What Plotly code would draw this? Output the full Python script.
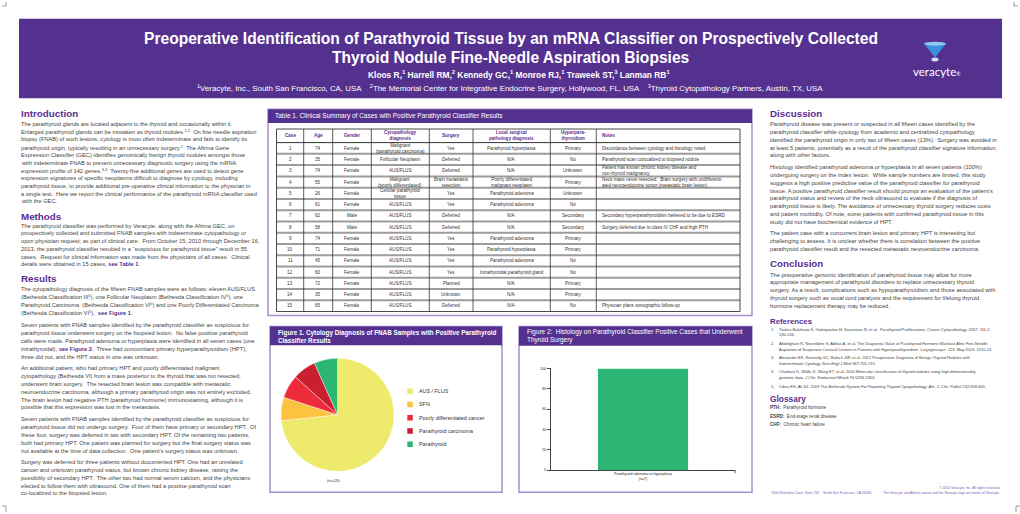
import plotly.graph_objects as go

W, H = 1020, 514
def X(p): return p / W
def Y(p): return 1 - p / H

PURPLE = '#55318f'
HEAD = '#5b2d90'
LIGHT = '#a78fcf'
TXT = '#3f3f3f'
FONT = 'Liberation Sans, Arial, sans-serif'
BODY = 5.7

# ---------------- data ----------------
pie_labels = ['AUS / FLUS', 'SFN', 'Poorly differentiated cancer', 'Parathyroid carcinoma', 'Parathyroid']
pie_counts = [11, 1, 1, 1, 1]
pie_colors = ['#eeea6b', '#fcc340', '#ee2b3b', '#c91f2f', '#2cb674']

bar_categories = ['Parathyroid adenoma or hyperplasia<br>(n=7)']
bar_values = [100]
bar_color = '#2cb674'
bar_tickvals = [0, 20, 40, 60, 80, 100]

tbl_headers = ['Case', 'Age', 'Gender', 'Cytopathology<br>diagnosis', 'Surgery',
               'Local surgical<br>pathology diagnosis', 'Hyperpara-<br>thyroidism', 'Notes']
tbl_case = [1, 2, 3, 4, 5, 6, 7, 8, 9, 10, 11, 12, 13, 14, 15]
tbl_age = [74, 35, 74, 55, 26, 61, 62, 58, 74, 71, 45, 60, 72, 35, 65]
tbl_gender = ['Female', 'Female', 'Female', 'Female', 'Female', 'Female', 'Male', 'Male',
              'Female', 'Female', 'Female', 'Female', 'Female', 'Female', 'Female']
tbl_cyto = ['Malignant<br>(parathyroid carcinoma)', 'Follicular Neoplasm', 'AUS/FLUS',
            'Malignant<br>(poorly differentiated)', 'Cellular parathyroid<br>tissue', 'AUS/FLUS',
            'AUS/FLUS', 'AUS/FLUS', 'AUS/FLUS', 'AUS/FLUS', 'AUS/FLUS', 'AUS/FLUS',
            'AUS/FLUS', 'AUS/FLUS', 'AUS/FLUS']
tbl_surgery = ['Yes', 'Deferred', 'Deferred', 'Brain metastasis<br>resection', 'Yes', 'Yes',
               'Deferred', 'Deferred', 'Yes', 'Yes', 'Yes', 'Yes', 'Planned', 'Unknown', 'Deferred']
tbl_local = ['Parathyroid hyperplasia', 'N/A', 'N/A', 'Poorly differentiated<br>malignant neoplasm',
             'Parathyroid adenoma', 'Parathyroid adenoma', 'N/A', 'N/A', 'Parathyroid adenoma',
             'Parathyroid hyperplasia', 'Parathyroid adenoma', 'Intrathyroidal parathyroid gland',
             'N/A', 'N/A', 'N/A']
tbl_hpt = ['Primary', 'No', 'Unknown', 'Primary', 'Unknown', 'No', 'Secondary', 'Secondary',
           'Primary', 'Primary', 'No', 'No', 'Primary', 'Primary', 'No']
tbl_notes = ['Discordance between cytology and histology noted',
             'Parathyroid scan colocalized to biopsied nodule',
             'Patient has known chronic kidney disease and<br>non-thyroid malignancy',
             'Neck mass never resected.  Brain surgery with undifferenti-<br>ated neuroendocrine tumor (metastatic brain lesion)',
             '', '', 'Secondary hyperparathyroidism believed to be due to ESRD',
             'Surgery deferred due to class IV CHF and high PTH',
             '', '', '', '', '', '', 'Physician plans sonographic follow-up']

# ---------------- helpers ----------------
ann = []
shp = []

def txt(x, y, s, size=BODY, color=TXT, xanchor='left', family=FONT, yanchor='middle'):
    ann.append(dict(x=X(x), y=Y(y), xref='paper', yref='paper', text=s, showarrow=False,
                    xanchor=xanchor, yanchor=yanchor, align=xanchor if xanchor != 'center' else 'center',
                    font=dict(size=size, color=color, family=family)))

def rect(x0, y0, x1, y1, fill=None, line=None, lw=1):
    shp.append(dict(type='rect', xref='paper', yref='paper', x0=X(x0), x1=X(x1), y0=Y(y1), y1=Y(y0),
                    fillcolor=fill if fill else 'rgba(0,0,0,0)',
                    line=dict(color=line if line else 'rgba(0,0,0,0)', width=lw if line else 0)))

def hline(x0, x1, y, color, lw):
    shp.append(dict(type='line', xref='paper', yref='paper', x0=X(x0), x1=X(x1), y0=Y(y), y1=Y(y),
                    line=dict(color=color, width=lw)))

def vline(x, y0, y1, color, lw):
    shp.append(dict(type='line', xref='paper', yref='paper', x0=X(x), x1=X(x), y0=Y(y0), y1=Y(y1),
                    line=dict(color=color, width=lw)))

def SEE(s):
    return '<b><span style="color:%s">%s</span></b>' % (HEAD, s)

def para(x, y0, lines, step=7.83, size=BODY):
    for i, l in enumerate(lines):
        txt(x, y0 + i * step, l, size=size)

def header(x, y, s, size=9.8):
    txt(x, y, '<b>%s</b>' % s, size=size, color=HEAD)

# ---------------- banner ----------------
rect(19, 17, 1002, 97, fill=PURPLE)
txt(511, 37, '<b>Preoperative Identification of Parathyroid Tissue by an mRNA Classifier on Prospectively Collected</b>',
    size=15.6, color='white', xanchor='center')
txt(511, 56, '<b>Thyroid Nodule Fine-Needle Aspiration Biopsies</b>', size=15.6, color='white', xanchor='center')
txt(519, 73, '<b>Kloos R,<sup>1</sup> Harrell RM,<sup>2</sup> Kennedy GC,<sup>1</sup> Monroe RJ,<sup>1</sup> Traweek ST,<sup>3</sup> Lanman RB<sup>1</sup></b>',
    size=8.4, color='white', xanchor='center')
txt(510, 87, '<sup>1</sup>Veracyte, Inc., South San Francisco, CA, USA    <sup>2</sup>The Memorial Center for Integrative Endocrine Surgery, Hollywood, FL, USA    <sup>3</sup>Thyroid Cytopathology Partners, Austin, TX, USA',
    size=7.9, color='white', xanchor='center')
# logo
shp.append(dict(type='path', xref='paper', yref='paper',
                path='M %f %f L %f %f L %f %f Z' % (X(924), Y(42), X(946), Y(42), X(935), Y(56)),
                fillcolor='#3d8fdc', line=dict(width=0)))
shp.append(dict(type='circle', xref='paper', yref='paper', x0=X(924), x1=X(946), y0=Y(44), y1=Y(40),
                fillcolor='#8cc6f2', line=dict(width=0)))
shp.append(dict(type='circle', xref='paper', yref='paper', x0=X(931.5), x1=X(938.5), y0=Y(60), y1=Y(56),
                fillcolor='#cfe6f8', line=dict(width=0)))
txt(936, 70, 'veracyte<span style="font-size:5px">®</span>', size=11.5, color='white', xanchor='center',
    family='Lato, Noto Sans, sans-serif')

# crop marks
vline(6, 0, 4, '#555', 0.6); hline(2, 6, 4, '#555', 0.6)
vline(1014, 0, 4, '#555', 0.6); hline(1014, 1018, 4, '#555', 0.6)
vline(1016, 508, 514, '#555', 0.6); hline(1016, 1020, 508, '#555', 0.6)
vline(6, 508, 514, '#555', 0.6); hline(2, 6, 508, '#555', 0.6)

# ---------------- left column ----------------
LX = 19
header(LX, 112, 'Introduction')
para(LX, 122.7, [
    'The parathyroid glands are located adjacent to the thyroid and occasionally within it.',
    'Enlarged parathyroid glands can be mistaken as thyroid nodules.<sup>1,2</sup>  On fine needle aspiration',
    'biopsy (FNAB) of such lesions, cytology is most often indeterminate and fails to identify its',
    'parathyroid origin, typically resulting in an unnecessary surgery.<sup>1</sup>  The Afirma Gene',
    'Expression Classifier (GEC) identifies genomically benign thyroid nodules amongst those',
    'with indeterminate FNAB to prevent unnecessary diagnostic surgery using the mRNA',
    'expression profile of 142 genes.<sup>3,4</sup>  Twenty-five additional genes are used to detect gene',
    'expression signatures of specific neoplasms difficult to diagnose by cytology, including',
    'parathyroid tissue, to provide additional pre-operative clinical information to the physician in',
    'a single test.  Here we report the clinical performance of the parathyroid mRNA classifier used',
    'with the GEC.'])
header(LX, 215.7, 'Methods')
para(LX, 225.3, [
    'The parathyroid classifier was performed by Veracyte, along with the Afirma GEC, on',
    'prospectively collected and submitted FNAB samples with indeterminate cytopathology or',
    'upon physician request; as part of clinical care.  From October 15, 2010 through December 16,',
    '2013, the parathyroid classifier resulted in a \u201csuspicious for parathyroid tissue\u201d result in 55',
    'cases.  Request for clinical information was made from the physicians of all cases.  Clinical',
    'details were obtained in 15 cases, ' + SEE('see Table 1') + '.'])
header(LX, 279, 'Results')
para(LX, 289, [
    'The cytopathology diagnosis of the fifteen FNAB samples were as follows: eleven AUS/FLUS',
    '(Bethesda Classification III<sup>5</sup>), one Follicular Neoplasm (Bethesda Classification IV<sup>5</sup>), one',
    'Parathyroid Carcinoma  (Bethesda Classification VI<sup>5</sup>) and one Poorly Differentiated Carcinoma',
    '(Bethesda Classification VI<sup>5</sup>),  ' + SEE('see Figure 1') + '.'])
para(LX, 326, [
    'Seven patients with FNAB samples identified by the parathyroid classifier as suspicious for',
    'parathyroid tissue underwent surgery on the biopsied lesion.  No false positive parathyroid',
    'calls were made. Parathyroid adenoma or hyperplasia were identified in all seven cases (one',
    'intrathyroidal), ' + SEE('see Figure 2.') + '  Three had concomitant primary hyperparathyroidism (HPT),',
    'three did not, and the HPT status in one was unknown.'])
para(LX, 369.3, [
    'An additional patient, who had primary HPT and poorly differentiated malignant',
    'cytopathology (Bethesda VI) from a mass posterior to the thyroid that was not resected,',
    'underwent brain surgery.  The resected brain lesion was compatible with metastatic',
    'neuroendocrine carcinoma, although a primary parathyroid origin was not entirely excluded.',
    'The brain lesion had negative PTH (parathyroid hormone) immunostaining, although it is',
    'possible that this expression was lost in the metastasis.'])
para(LX, 420.7, [
    'Seven patients with FNAB samples identified by the parathyroid classifier as suspicious for',
    'parathyroid tissue did not undergo surgery.  Four of them have primary or secondary HPT.  Of',
    'these four, surgery was deferred in two with secondary HPT. Of the remaining two patients,',
    'both had primary HPT. One patient was planned for surgery but the final surgery status was',
    'not available at the time of data collection.  One patient\u2019s surgery status was unknown.'])
para(LX, 464, [
    'Surgery was deferred for three patients without documented HPT. One had an unrelated',
    'cancer and unknown parathyroid status, but known chronic kidney disease, raising the',
    'possibility of secondary HPT.  The other two had normal serum calcium, and the physicians',
    'elected to follow them with ultrasound. One of them had a positive parathyroid scan',
    'co-localized to the biopsied lesion.'])

# ---------------- right column ----------------
RX = 768
header(RX, 112, 'Discussion')
para(RX, 123.3, [
    'Parathyroid disease was present or suspected in all fifteen cases identified by the',
    'parathyroid classifier while cytology from academic and centralized cytopathology',
    'identified the parathyroid origin in only two of fifteen cases (13%).  Surgery was avoided in',
    'at least 5 patients, potentially as a result of the parathyroid classifier signature information,',
    'along with other factors.'])
para(RX, 166.7, [
    'Histology identified parathyroid adenoma or hyperplasia in all seven patients (100%)',
    'undergoing surgery on the index lesion.  While sample numbers are limited, this study',
    'suggests a high positive predictive value of the parathyroid classifier for parathyroid',
    'tissue. A positive parathyroid classifier result should prompt an evaluation of the patient\u2019s',
    'parathyroid status and review of the neck ultrasound to evaluate if the diagnosis of',
    'parathyroid tissue is likely. The avoidance of unnecessary thyroid surgery reduces costs',
    'and patient morbidity. Of note, some patients with confirmed parathyroid tissue in this',
    'study did not have biochemical evidence of HPT.'])
para(RX, 233.3, [
    'The patient case with a concurrent brain lesion and primary HPT is interesting but',
    'challenging to assess. It is unclear whether there is correlation between the positive',
    'parathyroid classifier result and the resected metastatic neuroendocrine carcinoma.'])
header(RX, 264, 'Conclusion')
para(RX, 274.7, [
    'The preoperative genomic identification of parathyroid tissue may allow for more',
    'appropriate management of parathyroid disorders to replace unnecessary thyroid',
    'surgery. As a result, complications such as hypoparathyroidism and those associated with',
    'thyroid surgery such as vocal cord paralysis and the requirement for lifelong thyroid',
    'hormone replacement therapy may be reduced.'])
header(RX, 322, 'References', size=7.8)
refs = [
    (330, '1.', 'Tsalevi-Balafouta S, Gakiopoulou H, Kavantzas N, et al.  Parathyroid Proliferations. <i>Cancer Cytopathology.</i> 2007; 111:2,'),
    (335.5, '', '130-136.'),
    (344.3, '2.', 'Abdelghani R, Noureldine S, Abbas A, et al, The Diagnostic Value of Parathyroid Hormone Washout After Fine-Needle'),
    (350, '', 'Aspiration of Suspicious Cervical Lesions in Patients with Hyperparathyroidism. <i>Laryngoscope.</i> 123: May 2013. 1210-13.'),
    (358.7, '3.', 'Alexander EK, Kennedy GC, Baloch ZW, et al. 2012 Preoperative Diagnosis of Benign Thyroid Nodules with'),
    (364.3, '', 'Indeterminate Cytology. <i>New Engl J Med</i> 367:705-715.'),
    (372.7, '4.', 'Chudova D, Wilde JI, Wang ET, et al. 2010 Molecular classification of thyroid nodules using high-dimensionality'),
    (378.5, '', 'genomic data. <i>J Clin. Endocrinol Metab</i> 95:5296-5304.'),
    (387.7, '5.', 'Cibas ES, Ali SZ. 2009 The Bethesda System For Reporting Thyroid Cytopathology. <i>Am. J. Clin. Pathol</i> 132:658-665.'),
]
for y, n, s in refs:
    if n:
        txt(769, y, n, size=4.0)
    txt(777, y, s, size=4.0)
header(RX, 400, 'Glossary', size=8.4)
for y, s in [(409, '<b>PTH:</b>  Parathyroid hormone'), (417.3, '<b>ESRD:</b>  End-stage renal disease'),
             (426, '<b>CHF:</b>  Chronic heart failure')]:
    txt(RX, y, s, size=4.6)
FOOT = '#7a5db5'
txt(1002, 490, '\u00a9 2014 Veracyte, Inc. All rights reserved.', size=3.4, color=FOOT, xanchor='right')
txt(769, 495.3, '7000 Shoreline Court, Suite 250    South San Francisco, CA 94080', size=3.4, color=FOOT)
txt(1002, 495.3, 'The Veracyte and Afirma names and the Veracyte logo are marks of Veracyte.', size=3.4,
    color=FOOT, xanchor='right')

# ---------------- table panel ----------------
rect(268, 108, 752, 316, line=LIGHT, lw=1.5)
rect(268, 108, 752, 122, fill=PURPLE)
txt(273, 115, 'Table 1. Clinical Summary of Cases with Positive Parathyroid Classifier Results', size=6.5, color='white')
TL, TR, TT = 276.5, 740, 128
HB = 141.7
RH = 11.35
bounds = [TL, 303.7, 332.7, 371.3, 429.3, 473, 550.3, 596.3, TR]
TB = HB + RH * len(tbl_case)
for i in range(len(tbl_case) - 1):
    hline(TL, TR, HB + RH * (i + 1), '#9c9c9c', 2)
hline(TL, TR, HB, '#333', 1)
for b in bounds[1:-1]:
    vline(b, TT, TB, '#333', 0.8)
rect(TL, TT, TR, TB, line='#333', lw=0.9)
for j, hd in enumerate(tbl_headers):
    if j == 7:
        txt(bounds[j] + 4, (TT + HB) / 2, '<b>%s</b>' % hd, size=4.6, color=HEAD)
    else:
        txt((bounds[j] + bounds[j + 1]) / 2, (TT + HB) / 2, '<b>%s</b>' % hd, size=4.6, color=HEAD,
            xanchor='center')
cols = [tbl_case, tbl_age, tbl_gender, tbl_cyto, tbl_surgery, tbl_local, tbl_hpt, tbl_notes]
for i in range(len(tbl_case)):
    yc = HB + RH * (i + 0.5)
    for j, col in enumerate(cols):
        v = str(col[i])
        if not v:
            continue
        if j == 7:
            txt(bounds[j] + 4, yc, v, size=4.6, color='#333')
        else:
            txt((bounds[j] + bounds[j + 1]) / 2, yc, v, size=4.6, color='#333', xanchor='center')

# ---------------- figure 1 panel ----------------
rect(270, 327, 502, 494, line=LIGHT, lw=1.5)
rect(270, 327, 502, 346, fill=PURPLE)
txt(276, 333.3, '<b>Figure 1. Cytology Diagnosis of FNAB Samples with Positive Parathyroid</b>', size=6.3, color='white')
txt(276, 341.3, '<b>Classifier Results</b>', size=6.3, color='white')
PCX, PCY, PR = 337.5, 416, 57
pie = go.Pie(labels=pie_labels, values=pie_counts, sort=False, direction='clockwise', rotation=0,
             marker=dict(colors=pie_colors, line=dict(color='white', width=0.4)),
             textinfo='none', hoverinfo='label+value', showlegend=False,
             domain=dict(x=[X(PCX - PR), X(PCX + PR)], y=[Y(PCY + PR), Y(PCY - PR)]))
for k, (lab, col) in enumerate(zip(pie_labels, pie_colors)):
    yc = 392.3 + k * 13.35
    rect(407.3, yc - 2.8, 412.8, yc + 2.8, fill=col)
    txt(416.7, yc, lab, size=5.4, color='#333')
txt(333, 482.7, '(n=%d)' % sum(pie_counts), size=4.4, color='#333', xanchor='center')

# ---------------- figure 2 panel ----------------
rect(519, 327, 752, 494, line=LIGHT, lw=1.5)
rect(519, 327, 752, 346.5, fill=PURPLE)
txt(525, 332.7, 'Figure 2:  Histology on Parathyroid Classifier Positive Cases that Underwent', size=6.4, color='white')
txt(525, 340.7, 'Thyroid Surgery', size=6.4, color='white')
bar = go.Bar(x=bar_categories, y=bar_values, marker=dict(color=bar_color, line=dict(width=0)),
             xaxis='x', yaxis='y', showlegend=False, hoverinfo='x+y')
vline(735, 471.7, 474.8, '#444', 0.9)

fig = go.Figure([pie, bar])
fig.update_layout(
    width=W, height=H, margin=dict(l=0, r=0, t=0, b=0),
    paper_bgcolor='white', plot_bgcolor='white',
    font=dict(family=FONT, color=TXT),
    annotations=ann, shapes=shp, bargap=0.51,
    xaxis=dict(domain=[X(551), X(735)], showline=True, linecolor='#444', linewidth=1.1,
               showgrid=False, zeroline=False, ticks='', tickfont=dict(size=3.6, color='#222'),
               fixedrange=True),
    yaxis=dict(domain=[Y(471.7), Y(369.3)], range=[0, 100], tickvals=bar_tickvals, ticksuffix='%',
               showline=True, linecolor='#444', linewidth=1.1, ticks='outside', ticklen=3,
               tickcolor='#444', showgrid=False, zeroline=False,
               tickfont=dict(size=3.6, color='#222'), fixedrange=True),
)
fig.write_html('out.html', config={'displayModeBar': False},
               post_script="document.body.style.margin='0px';document.body.style.padding='0px';"
                           "document.body.style.overflow='hidden';")
